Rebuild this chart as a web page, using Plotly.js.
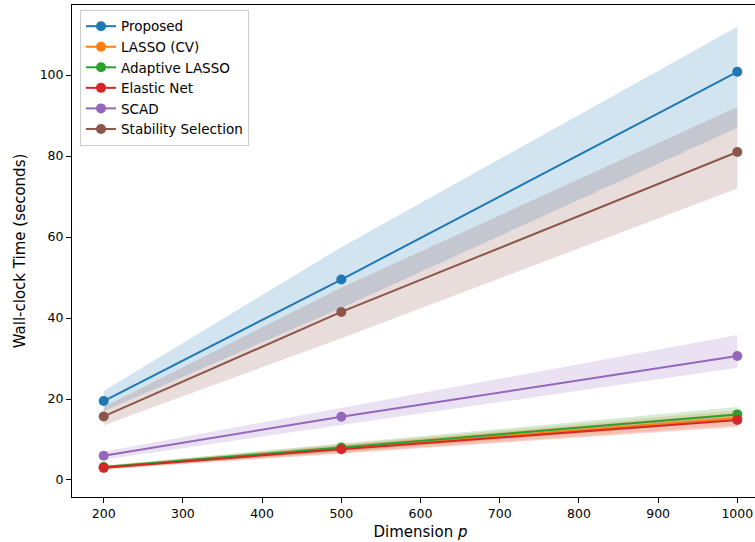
<!DOCTYPE html>
<html>
<head>
<meta charset="utf-8">
<script src="https://cdn.plot.ly/plotly-3.0.1.min.js"></script>
<style>html,body{margin:0;padding:0;overflow:hidden;background:#fff;}#chart{width:770px;height:542px;}</style>
</head>
<body>
<div id="chart"></div>
<script>
const dims = [200, 500, 1000];
const methods = ["Proposed", "LASSO (CV)", "Adaptive LASSO", "Elastic Net", "SCAD", "Stability Selection"];
const colors = ["#1f77b4", "#ff7f0e", "#2ca02c", "#d62728", "#9467bd", "#8c564b"];
const fills = ["rgba(31,119,180,0.2)", "rgba(255,127,14,0.2)", "rgba(44,160,44,0.2)", "rgba(214,39,40,0.2)", "rgba(148,103,189,0.2)", "rgba(140,86,75,0.2)"];

const proposedMean = [19.5, 49.5, 100.8];
const proposedLow  = [17.0, 42.5, 87.0];
const proposedHigh = [22.0, 57.5, 111.9];

const lassoMean = [3.1, 7.8, 15.3];
const lassoLow  = [2.7, 6.8, 13.5];
const lassoHigh = [3.5, 8.8, 17.2];

const adaptiveMean = [3.2, 8.0, 16.2];
const adaptiveLow  = [2.8, 7.0, 14.5];
const adaptiveHigh = [3.6, 9.0, 18.0];

const elasticMean = [3.0, 7.6, 14.8];
const elasticLow  = [2.6, 6.6, 13.1];
const elasticHigh = [3.4, 8.6, 16.5];

const scadMean = [6.0, 15.6, 30.6];
const scadLow  = [5.0, 13.6, 27.7];
const scadHigh = [7.0, 17.8, 35.8];

const stabilityMean = [15.7, 41.5, 81.0];
const stabilityLow  = [13.5, 35.0, 72.0];
const stabilityHigh = [18.0, 47.5, 92.1];

const means = [proposedMean, lassoMean, adaptiveMean, elasticMean, scadMean, stabilityMean];
const lows = [proposedLow, lassoLow, adaptiveLow, elasticLow, scadLow, stabilityLow];
const highs = [proposedHigh, lassoHigh, adaptiveHigh, elasticHigh, scadHigh, stabilityHigh];

const traces = [];
for (let i = 0; i < methods.length; i++) {
  traces.push({x: dims, y: lows[i], mode: 'lines', line: {width: 0, color: colors[i]}, showlegend: false, hoverinfo: 'skip', type: 'scatter'});
  traces.push({x: dims, y: highs[i], mode: 'lines', line: {width: 0, color: colors[i]}, fill: 'tonexty', fillcolor: fills[i], showlegend: false, hoverinfo: 'skip', type: 'scatter'});
}
for (let i = 0; i < methods.length; i++) {
  traces.push({x: dims, y: means[i], name: methods[i], mode: 'lines+markers', type: 'scatter',
    line: {color: colors[i], width: 2}, marker: {color: colors[i], size: 10}});
}

const font = "DejaVu Sans, sans-serif";
const layout = {
  width: 770, height: 542,
  margin: {l: 72, r: 1, t: 5, b: 45},
  paper_bgcolor: '#fff', plot_bgcolor: '#fff',
  font: {family: font, color: '#000', size: 12.5},
  showlegend: true,
  legend: {x: 0.0115, y: 0.99, xanchor: 'left', yanchor: 'top', bgcolor: 'rgba(255,255,255,0.8)', bordercolor: '#cccccc', borderwidth: 1, font: {family: font, size: 13.5, color: '#000'}, traceorder: 'normal'},
  xaxis: {range: [160, 1040], tickvals: [200, 300, 400, 500, 600, 700, 800, 900, 1000], showgrid: false, zeroline: false,
    showline: true, linecolor: '#000', linewidth: 1, mirror: true, ticks: 'outside', ticklen: 5, tickcolor: '#000',
    title: {text: 'Dimension <i>p</i>', font: {family: font, size: 15}, standoff: 6}},
  yaxis: {range: [-4.2, 117.3], tickvals: [0, 20, 40, 60, 80, 100], showgrid: false, zeroline: false,
    showline: true, linecolor: '#000', linewidth: 1, mirror: true, ticks: 'outside', ticklen: 5, tickcolor: '#000',
    title: {text: 'Wall-clock Time (seconds)', font: {family: font, size: 15}, standoff: 10}}
};
Plotly.newPlot('chart', traces, layout, {displayModeBar: false, staticPlot: true});
</script>
</body>
</html>
